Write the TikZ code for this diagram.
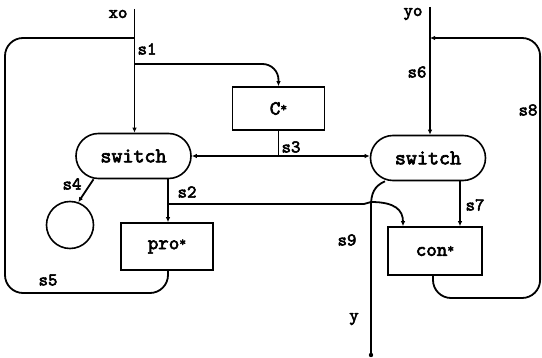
\documentclass[tikz,border=0pt]{standalone}
\usepackage{fontspec}
\setmonofont{lmmono10-regular}[Extension=.otf, AutoFakeBold=3]
\usetikzlibrary{arrows.meta,calc,shapes.misc}
\newcommand{\sstar}{\raisebox{3pt}{\fontsize{13}{13}\selectfont *}}
\tikzset{
  wire/.style={line width=1.8pt},
  arr/.style={-{Latex[length=5pt,width=4.5pt]}},
  lbl/.style={font=\ttfamily\bfseries\fontsize{18}{18}\selectfont, inner sep=0pt},
  box/.style={draw, line width=1.6pt, minimum width=92pt, inner sep=0pt,
    font=\ttfamily\bfseries\fontsize{20}{20}\selectfont},
  sw/.style={draw, rounded rectangle, line width=1.6pt, minimum width=115pt,
    minimum height=45pt, inner sep=0pt, font=\ttfamily\bfseries\fontsize{21}{21}\selectfont},
  ring/.style={draw, circle, line width=1.6pt, minimum size=47pt, inner sep=0pt}
}
\begin{document}
\begin{tikzpicture}[x=1pt,y=-1pt]
\useasboundingbox (0,0) rectangle (542,358);
% nodes
\node[sw] (swL) at (133.5,156) {switch};
\node[sw] (swR) at (428,158) {switch};
\node[box, minimum height=43pt] (C) at (278.5,108.5) {C\sstar};
\node[box, minimum height=47pt] (pro) at (167,246.5) {pro\sstar};
\node[box, minimum width=94pt, minimum height=48pt] (con) at (435,251) {con\sstar};
\node[ring] (circ) at (70,225) {};
% coordinates
\coordinate (xo) at (134.5,9);
\coordinate (yo) at (430,7);
\coordinate (j1) at (134.5,38);
\coordinate (j2) at (134.5,64);
\coordinate (j8) at (430,38);
\coordinate (s3c) at (C.south |- swL.east);
\coordinate (s2j) at (168,204);
\coordinate (y9) at (371,355);
% connectors
\draw[wire,arr] (xo) -- (xo |- swL.north);
\draw[wire,arr,rounded corners=16] (j2) -- (C.north |- j2) -- (C.north);
\draw[wire] (C.south) -- (s3c);
\draw[wire,arr] (s3c) -- (swL.east);
\draw[wire,arr] (s3c) -- (s3c -| swR.west);
\draw[wire,arr] ($(swL.south)+(-40,0)$) -- (circ.70);
\draw[wire,arr] (swL.south -| s2j) -- (pro.north -| s2j);
\draw[wire,arr] (s2j) -- (364,204) -- (371,202) .. controls (395,202) and (403,210) .. ($(con.north)+(-32,0)$);
\draw[wire] ($(swR.south)+(-43,0)$) .. controls (374,186) and (371,194) .. (371,206) -- (y9);
\fill (y9) circle (2.2);
\draw[wire,arr] ($(swR.south)+(32,0)$) -- ($(con.north)+(25,0)$);
\draw[wire,arr] (yo) -- (yo |- swR.north);
\draw[wire,arr,rounded corners=18] ($(con.south)+(-2,0)$) -- (433,298) -- (540.1,298) -- (540.1,38) -- (j8);
\draw[wire,rounded corners=18] ($(pro.south)+(1,0)$) -- (168,293) -- (5,293) -- (5,38) -- (j1);
% labels
\node[lbl] (lxo) at (118,14) {xo};
\node[lbl] (lyo) at (413,14) {yo};
\node[lbl] (l1) at (147,49) {s1};
\node[lbl] (l2) at (187,192) {s2};
\node[lbl] (l3) at (291,147) {s3};
\node[lbl] (l4) at (72,184) {s4};
\node[lbl] (l5) at (48,280) {s5};
\node[lbl] (l6) at (417,72) {s6};
\node[lbl] (l7) at (475,205) {s7};
\node[lbl] (l8) at (528,110) {s8};
\node[lbl] (l9) at (347,240) {s9};
\node[lbl] (ly) at (354,319) {y};
\end{tikzpicture}
\end{document}
